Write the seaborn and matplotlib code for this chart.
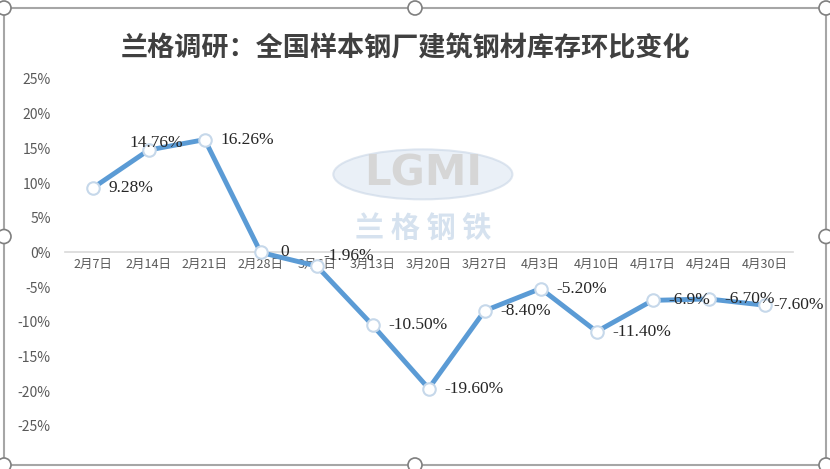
import matplotlib
matplotlib.use("Agg")
import matplotlib.pyplot as plt
from matplotlib.patches import Rectangle, Ellipse
import seaborn as sns
import pandas as pd

# chart data
dates = ["2月7日", "2月14日", "2月21日", "2月28日", "3月6日", "3月13日", "3月20日",
         "3月27日", "4月3日", "4月10日", "4月17日", "4月24日", "4月30日"]
change_pct = [9.28, 14.76, 16.26, 0, -1.96, -10.50, -19.60,
              -8.40, -5.20, -11.40, -6.9, -6.70, -7.60]
point_labels = ["9.28%", "14.76%", "16.26%", "0", "-1.96%", "-10.50%", "-19.60%",
                "-8.40%", "-5.20%", "-11.40%", "-6.9%", "-6.70%", "-7.60%"]
y_ticks = [-25, -20, -15, -10, -5, 0, 5, 10, 15, 20, 25]

title = "兰格调研：全国样本钢厂建筑钢材库存环比变化"

sns.set_theme(style="white")
plt.rcParams["font.family"] = ["Noto Sans CJK SC", "DejaVu Sans"]
plt.rcParams["axes.unicode_minus"] = False

df = pd.DataFrame({"date": dates, "change": change_pct})

fig = plt.figure(figsize=(8.3, 4.69), dpi=100)
ax = fig.add_axes([0.078, 0.0917, 0.877, 0.74])

# watermark
ax.add_patch(Ellipse((0.492, 0.725), 0.246, 0.144, transform=ax.transAxes,
                     facecolor="#DCE6F2", edgecolor="#C9D6E6", lw=1.5, alpha=0.6, zorder=0))
ax.text(0.492, 0.728, "LGMI", transform=ax.transAxes, ha="center", va="center",
        fontsize=30, fontweight="bold", color="#D6D6D6", family=["DejaVu Sans"], zorder=0)
ax.text(0.492, 0.57, "兰 格 钢 铁", transform=ax.transAxes, ha="center", va="center",
        fontsize=21, fontweight="bold", color="#D6E2EF", zorder=0)

sns.lineplot(data=df, x="date", y="change", ax=ax, color="#5B9BD5", linewidth=3.5,
             marker="o", markersize=9, markerfacecolor="white",
             markeredgecolor="#C6D8EA", markeredgewidth=1.5, zorder=3)

# data labels: mostly to the right of the point, a few nudged like the original
offsets = {1: (-14, 5), 3: (14, 0), 4: (5, 7), 12: (6, 0)}
for i, (v, lab) in enumerate(zip(change_pct, point_labels)):
    dx, dy = offsets.get(i, (11, 0))
    ax.annotate(lab, (i, v), xytext=(dx, dy), textcoords="offset points",
                ha="left", va="center", fontsize=12.5, color="#262626",
                family=["Liberation Serif"], zorder=4)

ax.set_xlim(-0.5, len(dates) - 0.5)
ax.set_ylim(-25, 25)
ax.set_yticks(y_ticks)
ax.set_yticklabels([f"{t}%" for t in y_ticks], fontsize=10, color="#595959")
ax.tick_params(axis="y", length=0, pad=10)
ax.tick_params(axis="x", length=0, pad=4, labelsize=9, labelcolor="#595959")
ax.set_xlabel("")
ax.set_ylabel("")
for side in ["top", "right", "left"]:
    ax.spines[side].set_visible(False)
ax.spines["bottom"].set_position(("data", 0))
ax.spines["bottom"].set_color("#D9D9D9")
ax.spines["bottom"].set_linewidth(1.2)
ax.spines["bottom"].set_zorder(1)

fig.text(0.488, 0.897, title, ha="center", va="center", fontsize=19.5,
         fontweight="bold", color="#404040")

# chart frame with selection handles
x0, y0, x1, y1 = 4 / 830, 1 - 465 / 469, 826 / 830, 1 - 8 / 469
fig.patches.append(Rectangle((x0, y0), x1 - x0, y1 - y0, transform=fig.transFigure,
                             fill=False, edgecolor="#A6A6A6", lw=1.5))
for hx in [x0, (x0 + x1) / 2, x1]:
    for hy in [y0, (y0 + y1) / 2, y1]:
        if hx == (x0 + x1) / 2 and hy == (y0 + y1) / 2:
            continue
        fig.patches.append(Ellipse((hx, hy), 14 / 830, 14 / 469, transform=fig.transFigure,
                                   facecolor="white", edgecolor="#7F7F7F", lw=1.2))

fig.savefig("out.png", dpi=100)
